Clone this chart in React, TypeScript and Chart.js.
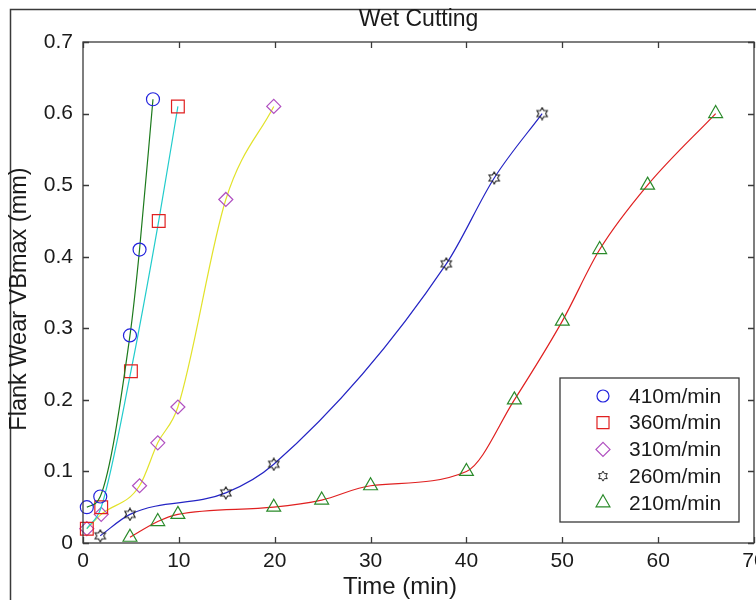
import React, { useEffect, useRef } from "react";
import { Chart, registerables } from "chart.js";
import { drawPoint } from "chart.js/helpers";

Chart.register(...registerables);

const TITLE = "Wet Cutting";
const X_LABEL = "Time (min)";
const Y_LABEL = "Flank Wear VBmax (mm)";
const X_TICKS = [0, 10, 20, 30, 40, 50, 60, 70];
const Y_TICKS = [0, 0.1, 0.2, 0.3, 0.4, 0.5, 0.6, 0.7];

const SERIES_LABELS = ["410m/min", "360m/min", "310m/min", "260m/min", "210m/min"];

const time410 = [0.4, 1.8, 4.9, 5.9, 7.3];
const wear410 = [0.05, 0.065, 0.29, 0.41, 0.62];

const time360 = [0.4, 1.9, 5.0, 7.9, 9.9];
const wear360 = [0.02, 0.05, 0.24, 0.45, 0.61];

const time310 = [0.4, 1.9, 5.9, 7.8, 9.9, 14.9, 19.9];
const wear310 = [0.02, 0.04, 0.08, 0.14, 0.19, 0.48, 0.61];

const time260 = [1.8, 4.9, 14.9, 19.9, 37.9, 42.9, 47.9];
const wear260 = [0.01, 0.04, 0.07, 0.11, 0.39, 0.51, 0.6];

const time210 = [4.9, 7.8, 9.9, 19.9, 24.9, 30, 40, 45, 50, 53.9, 58.9, 66];
const wear210 = [0.008, 0.03, 0.04, 0.05, 0.06, 0.08, 0.1, 0.2, 0.31, 0.41, 0.5, 0.6];

const FONT = "'Liberation Sans', Arial, Helvetica, sans-serif";
const TEXT = "#1a1a1a";
const AXIS = "#3a3a3a";

function makeHexagram(size: number, color: string, lw: number) {
  const c = document.createElement("canvas");
  c.width = size;
  c.height = size;
  const ctx = c.getContext("2d")!;
  const cx = size / 2;
  const cy = size / 2;
  const R = size / 2 - 1;
  const r = R / Math.sqrt(3);
  ctx.beginPath();
  for (let i = 0; i < 12; i++) {
    const a = -Math.PI / 2 + (i * Math.PI) / 6;
    const rad = i % 2 === 0 ? R : r;
    const px = cx + rad * Math.cos(a);
    const py = cy + rad * Math.sin(a);
    if (i === 0) ctx.moveTo(px, py);
    else ctx.lineTo(px, py);
  }
  ctx.closePath();
  ctx.strokeStyle = color;
  ctx.lineWidth = lw;
  ctx.stroke();
  return c;
}

function pts(xs: number[], ys: number[]) {
  return xs.map((x, i) => ({ x, y: ys[i] }));
}

const framePlugin = {
  id: "frame",
  beforeDraw(chart: any) {
    const ctx = chart.ctx;
    ctx.save();
    ctx.fillStyle = "#ffffff";
    ctx.fillRect(0, 0, chart.width, chart.height);
    ctx.strokeStyle = AXIS;
    ctx.lineWidth = 1.5;
    ctx.strokeRect(10.5, 9.5, chart.width + 20, chart.height + 20);
    ctx.restore();
  },
  afterDatasetsDraw(chart: any) {
    const { ctx, chartArea, scales } = chart;
    const { left, right, top, bottom } = chartArea;
    const x = scales.x;
    const y = scales.y;
    ctx.save();
    ctx.strokeStyle = AXIS;
    ctx.lineWidth = 1.3;
    ctx.strokeRect(left, top, right - left, bottom - top);
    const tl = 6;
    ctx.beginPath();
    X_TICKS.forEach((v) => {
      const px = Math.round(x.getPixelForValue(v)) + 0.5;
      ctx.moveTo(px, bottom);
      ctx.lineTo(px, bottom - tl);
      ctx.moveTo(px, top);
      ctx.lineTo(px, top + tl);
    });
    Y_TICKS.forEach((v) => {
      const py = Math.round(y.getPixelForValue(v)) + 0.5;
      ctx.moveTo(left, py);
      ctx.lineTo(left + tl, py);
      ctx.moveTo(right, py);
      ctx.lineTo(right - tl, py);
    });
    ctx.stroke();
    ctx.restore();
  },
  afterDraw(chart: any) {
    const { ctx, chartArea } = chart;
    // axis titles
    ctx.save();
    ctx.fillStyle = TEXT;
    ctx.textAlign = "center";
    ctx.textBaseline = "middle";
    ctx.font = `24px ${FONT}`;
    ctx.fillText(X_LABEL, chartArea.left + 317, chartArea.bottom + 44);
    ctx.translate(20, chartArea.top + 257);
    ctx.rotate(-Math.PI / 2);
    ctx.font = `23.5px ${FONT}`;
    ctx.fillText(Y_LABEL, 0, 0);
    ctx.restore();

    // legend
    const bx = chartArea.right - 194;
    const by = chartArea.bottom - 165;
    const bw = 179;
    const bh = 144;
    ctx.save();
    ctx.fillStyle = "#ffffff";
    ctx.fillRect(bx, by, bw, bh);
    ctx.strokeStyle = AXIS;
    ctx.lineWidth = 1.3;
    ctx.strokeRect(bx, by, bw, bh);
    ctx.font = `21px ${FONT}`;
    ctx.textBaseline = "middle";
    ctx.textAlign = "left";
    chart.data.datasets.forEach((ds: any, i: number) => {
      const cy = by + 18 + i * 26.7;
      const mx = bx + 43;
      ctx.save();
      ctx.strokeStyle = ds.pointBorderColor;
      ctx.fillStyle = "rgba(0,0,0,0)";
      ctx.lineWidth = ds.pointBorderWidth;
      const style = ds.legendImage || ds.pointStyle;
      drawPoint(ctx, { pointStyle: style, rotation: 0, radius: ds.legendRadius, borderWidth: ds.pointBorderWidth }, mx, cy);
      ctx.restore();
      ctx.fillStyle = TEXT;
      ctx.fillText(ds.label, bx + 69, cy + 1);
    });
    ctx.restore();
  },
};

export default function App() {
  const ref = useRef<HTMLCanvasElement | null>(null);

  useEffect(() => {
    if (!ref.current) return;
    const hex = makeHexagram(14, "#222222", 1.1);
    const hexSmall = makeHexagram(12, "#222222", 1);
    const common = {
      borderWidth: 1.2,
      pointBackgroundColor: "rgba(0,0,0,0)",
      pointBorderWidth: 1.2,
      cubicInterpolationMode: "monotone",
      clip: false,
      fill: false,
    };
    const chart = new Chart(ref.current, {
      type: "line",
      data: {
        datasets: [
          {
            ...common,
            label: SERIES_LABELS[0],
            data: pts(time410, wear410),
            borderColor: "#1c7a1c",
            pointBorderColor: "#2222dd",
            pointStyle: "circle",
            pointRadius: 6.5,
            pointHoverRadius: 6.5,
            legendRadius: 6,
          } as any,
          {
            ...common,
            label: SERIES_LABELS[1],
            data: pts(time360, wear360),
            borderColor: "#22cccc",
            pointBorderColor: "#e02020",
            pointStyle: "rect",
            pointRadius: 9,
            pointHoverRadius: 9,
            legendRadius: 8.5,
          } as any,
          {
            ...common,
            label: SERIES_LABELS[2],
            data: pts(time310, wear310),
            borderColor: "#e2e22a",
            pointBorderColor: "#b050c0",
            pointStyle: "rectRot",
            pointRadius: 7,
            pointHoverRadius: 7,
            legendRadius: 7,
          } as any,
          {
            ...common,
            label: SERIES_LABELS[3],
            data: pts(time260, wear260),
            borderColor: "#2424c4",
            pointBorderColor: "#222222",
            pointStyle: hex,
            pointRadius: 6,
            pointHoverRadius: 6,
            legendRadius: 5,
            legendImage: hexSmall,
          } as any,
          {
            ...common,
            label: SERIES_LABELS[4],
            data: pts(time210, wear210),
            borderColor: "#e02020",
            pointBorderColor: "#2a8a2a",
            pointStyle: "triangle",
            pointRadius: 8,
            pointHoverRadius: 8,
            legendRadius: 8,
          } as any,
        ],
      },
      options: {
        responsive: false,
        animation: false,
        devicePixelRatio: 1,
        layout: { autoPadding: false, padding: { left: 0, top: 6, right: 2, bottom: 0 } },
        font: { family: FONT },
        plugins: {
          legend: { display: false },
          tooltip: { enabled: false },
          title: {
            display: true,
            text: TITLE,
            fullSize: false,
            color: TEXT,
            font: { family: FONT, size: 23, weight: "normal", lineHeight: 1.2 },
            padding: { top: 0, bottom: 8.4 },
          },
        },
        scales: {
          x: {
            type: "linear",
            min: 0,
            max: 70,
            ticks: {
              stepSize: 10,
              autoSkip: false,
              maxRotation: 0,
              padding: 6,
              color: TEXT,
              font: { family: FONT, size: 21 },
            },
            grid: { drawOnChartArea: false, drawTicks: false },
            border: { display: false },
            title: { display: false },
            afterFit(s: any) {
              s.height = 57;
              s.paddingLeft = 0;
              s.paddingRight = 0;
            },
          },
          y: {
            type: "linear",
            min: 0,
            max: 0.7,
            ticks: {
              stepSize: 0.1,
              autoSkip: false,
              padding: 10,
              color: TEXT,
              font: { family: FONT, size: 21 },
            },
            grid: { drawOnChartArea: false, drawTicks: false },
            border: { display: false },
            title: { display: false },
            afterFit(s: any) {
              s.width = 83;
              s.paddingTop = 0;
              s.paddingBottom = 0;
            },
          },
        },
      } as any,
      plugins: [framePlugin],
    });
    return () => chart.destroy();
  }, []);

  return (
    <div style={{ position: "fixed", left: 0, top: 0, width: 756, height: 600, overflow: "hidden", background: "#fff" }}>
      <canvas ref={ref} width={756} height={600} style={{ width: 756, height: 600, display: "block" }} />
    </div>
  );
}
